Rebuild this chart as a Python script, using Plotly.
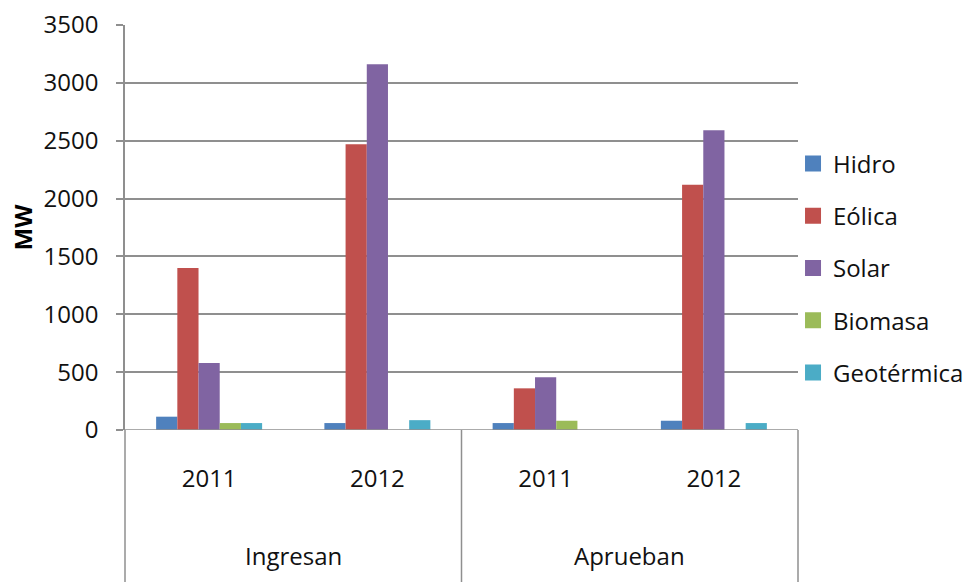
import plotly.graph_objects as go

# Categories: process stage and year
groups = ["Ingresan", "Ingresan", "Aprueban", "Aprueban"]
years = ["2011", "2012", "2011", "2012"]
categories = [f"{g} {y}" for g, y in zip(groups, years)]

# Capacity per technology (MW)
hidro = [115, 60, 60, 80]
eolica = [1400, 2470, 360, 2120]
solar = [580, 3160, 455, 2590]
biomasa = [60, -10, 80, -10]
geotermica = [60, 85, 0, 60]

series = [
    ("Hidro", hidro, "#4F81BD"),
    ("Eólica", eolica, "#C0504D"),
    ("Solar", solar, "#8064A2"),
    ("Biomasa", biomasa, "#9BBB59"),
    ("Geotérmica", geotermica, "#4BACC6"),
]

y_ticks = [0, 500, 1000, 1500, 2000, 2500, 3000, 3500]
group_labels = ["Ingresan", "Aprueban"]

FONT = "Open Sans"
FS = 24
TXT = "#111111"
GRID = "#8f8f8f"

fig = go.Figure()
for i, (name, vals, color) in enumerate(series):
    fig.add_trace(go.Bar(
        x=categories, y=vals, name=name,
        marker=dict(color=color, line=dict(width=0)),
        showlegend=False,
    ))
    # legend key with a larger square swatch
    fig.add_trace(go.Scatter(
        x=[None], y=[None], name=name, mode="markers",
        marker=dict(symbol="square", size=16, color=color),
        legendgroup=f"g{i}", showlegend=True, hoverinfo="skip",
    ))

fig.update_layout(
    width=973, height=582,
    margin=dict(l=125, r=175, t=25, b=152, autoexpand=False),
    paper_bgcolor="white", plot_bgcolor="white",
    barmode="group", bargap=0.37, bargroupgap=0,
    font=dict(family=FONT, size=FS, color=TXT),
    showlegend=True,
    legend=dict(
        x=0.9926, xanchor="left", y=(430 - 268) / 405, yanchor="middle",
        font=dict(family=FONT, size=FS, color=TXT),
        tracegroupgap=18, bgcolor="rgba(0,0,0,0)",
        itemsizing="trace",
    ),
    xaxis=dict(
        type="category",
        tickvals=categories, ticktext=years,
        showgrid=False, showline=False, zeroline=False,
        ticks="", ticklabelstandoff=32,
        tickfont=dict(family=FONT, size=FS, color=TXT),
        automargin=False,
    ),
    yaxis=dict(
        range=[0, 3500], tickvals=y_ticks,
        showgrid=True, gridcolor=GRID, gridwidth=1.5,
        zeroline=False,
        showline=True, linecolor=GRID, linewidth=1.5,
        ticks="outside", ticklen=7, tickcolor=GRID, tickwidth=1.5,
        ticklabelstandoff=13,
        tickfont=dict(family=FONT, size=FS, color=TXT),
        automargin=False,
        title=dict(text="<b>MW</b>", standoff=4,
                   font=dict(family=FONT, size=24, color="#000")),
    ),
)

# Axis baseline (extends left like the tick marks) and category dividers
fig.add_shape(type="line", xref="paper", yref="y", x0=-7 / 673, x1=1, y0=0, y1=0,
              line=dict(color=GRID, width=1.5))
for xp in [0.0, 0.5, 1.0]:
    fig.add_shape(type="line", xref="paper", yref="paper", x0=xp, x1=xp,
                  y0=0, y1=-0.38, line=dict(color=GRID, width=1.5))

# Outer group labels
for k, label in enumerate(group_labels):
    fig.add_annotation(
        x=0.25 + 0.5 * k, xref="paper", xanchor="center",
        y=-125 / 405, yref="paper", yanchor="middle",
        text=label, showarrow=False,
        font=dict(family=FONT, size=FS, color=TXT),
    )

fig.write_html("out.html")
